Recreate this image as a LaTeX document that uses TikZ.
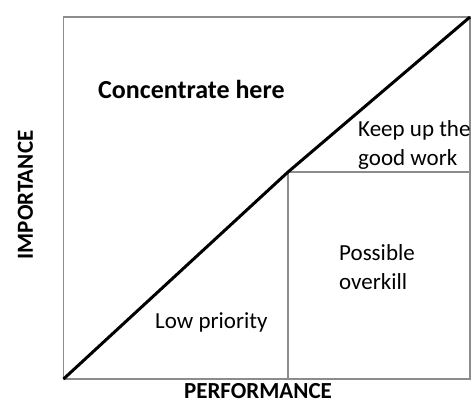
\documentclass[tikz,border=0pt]{standalone}
\usepackage{fontspec}
\setmainfont{Carlito}
\usetikzlibrary{positioning}
\definecolor{rahmen}{RGB}{140,140,140}
\definecolor{schrift}{RGB}{0,0,0}

\begin{document}
\begin{tikzpicture}[x=1pt, y=-1pt,
    feld/.style={anchor=base west, inner sep=0pt, align=left, schrift,
      font=\fontsize{23}{28.5}\selectfont},
    achse/.style={inner sep=0pt, schrift, font=\fontsize{23}{28}\selectfont\bfseries}]

    \useasboundingbox (0,0) rectangle (471,402);

    \coordinate (sw) at (63.5,379);
    \coordinate (ne) at (470,17);
    \coordinate (mid) at (288,172);
    \coordinate (e) at (470,172);
    \coordinate (s) at (288,379);

    \draw[rahmen, line width=1.5] (sw) rectangle (ne);
    \draw[rahmen, line width=1.2] (s) -- (mid) -- (e);
    \draw[black, line width=3] (sw) -- (mid) -- (ne);

    % base anchor sits on the last line
    \node[feld, font=\fontsize{26}{30}\selectfont\bfseries] (conc) at (98,98) {Concentrate here};
    \node[feld] (keep) at (358,165) {Keep up the\\good work};
    \node[feld] (over) at (339,289) {Possible\\overkill};
    \node[feld] (low) at (155,328) {Low priority};

    \node[achse] (perf) at (258,391) {PERFORMANCE};
    \node[achse, rotate=90] (imp) at (25.5,195) {IMPORTANCE};

\end{tikzpicture}
\end{document}
